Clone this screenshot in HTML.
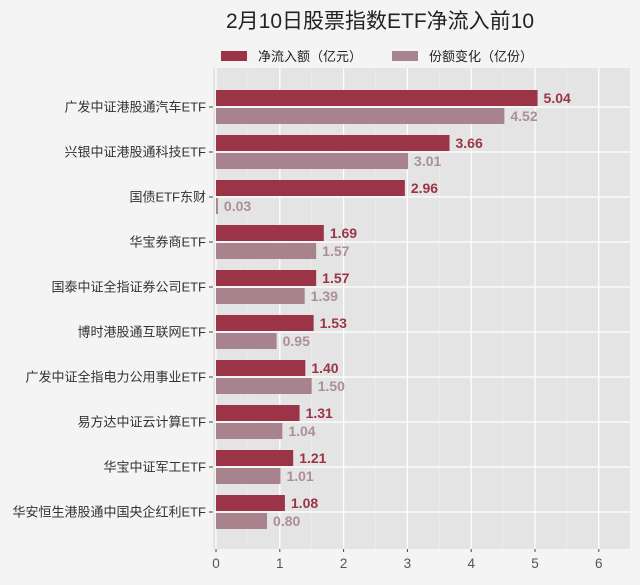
<!DOCTYPE html>
<html><head><meta charset="utf-8"><style>
body{margin:0;background:#f4f4f4;font-family:"Liberation Sans","Noto Sans CJK SC",sans-serif;overflow:hidden;}
svg{display:block;}
</style></head><body>
<svg id="c" width="640" height="585" xmlns="http://www.w3.org/2000/svg">
<rect width="640" height="585" fill="#f4f4f4"/>
<text x="380" y="28" text-anchor="middle" font-size="21" fill="#222" font-family="Liberation Sans,Noto Sans CJK SC,sans-serif">2月10日股票指数ETF净流入前10</text>
<g>
<rect x="221" y="51" width="26" height="10" fill="#9b3446"/>
<text x="258" y="61" font-size="13" fill="#222" font-family="Liberation Sans,Noto Sans CJK SC,sans-serif">净流入额（亿元）</text>
<rect x="392" y="51" width="26" height="10" fill="#a8838e"/>
<text x="429" y="61" font-size="13" fill="#222" font-family="Liberation Sans,Noto Sans CJK SC,sans-serif">份额变化（亿份）</text>
</g>
<g id="plot"></g>
</svg>
<script>
const categories=["广发中证港股通汽车ETF","兴银中证港股通科技ETF","国债ETF东财","华宝券商ETF","国泰中证全指证券公司ETF","博时港股通互联网ETF","广发中证全指电力公用事业ETF","易方达中证云计算ETF","华宝中证军工ETF","华安恒生港股通中国央企红利ETF"];
const netInflow=[5.04,3.66,2.96,1.69,1.57,1.53,1.40,1.31,1.21,1.08];
const shareChange=[4.52,3.01,0.03,1.57,1.39,0.95,1.50,1.04,1.01,0.80];
const xTicks=[0,1,2,3,4,5,6];
const NS="http://www.w3.org/2000/svg";
const g=document.getElementById('plot');
const X0=216,UNIT=63.8,TOP=68,BOTTOM=549,RIGHT=630,ROW0=107,ROWH=45;
const xs=v=>X0+v*UNIT;
const ys=i=>ROW0+i*ROWH;
function mk(t,a){const e=document.createElementNS(NS,t);for(const k in a)e.setAttribute(k,a[k]);g.appendChild(e);return e;}
let e=mk('rect',{x:X0-3,y:TOP,width:RIGHT-X0+3,height:BOTTOM-TOP,fill:'#e4e4e4'});


for(let v=0.5;v<6.5;v+=1){const l=mk('line',{x1:xs(v),x2:xs(v),y1:TOP,y2:BOTTOM,stroke:'#efefef','stroke-width':0.6});

}
xTicks.forEach(v=>{const l=mk('line',{x1:xs(v),x2:xs(v),y1:TOP,y2:BOTTOM,stroke:'#fff','stroke-width':1.2});


const tk=mk('line',{x1:xs(v),x2:xs(v),y1:BOTTOM,y2:BOTTOM+3,stroke:'#444'});


const t=mk('text',{x:xs(v),y:BOTTOM+19,'text-anchor':'middle','font-size':13.5,fill:'#555'});t.textContent=v;

});
categories.forEach((c,i)=>{const y=ys(i);
const hl=mk('line',{x1:X0-3,x2:RIGHT,y1:y,y2:y,stroke:'#fff','stroke-width':1.2});


const tk=mk('line',{x1:X0-7,x2:X0-3,y1:y,y2:y,stroke:'#444'});


const t=mk('text',{x:X0-10,y:y+4.5,'text-anchor':'end','font-size':13,fill:'#333'});t.textContent=c;


const b1=mk('rect',{x:X0,y:y-17,width:xs(netInflow[i])-X0,height:16,fill:'#9b3446'});


const t1=mk('text',{x:xs(netInflow[i])+6,y:y-4,'font-size':14,'font-weight':'bold',fill:'#9b3446'});t1.textContent=netInflow[i].toFixed(2);


const b2=mk('rect',{x:X0,y:y+1,width:Math.max(1,xs(shareChange[i])-X0),height:16,fill:'#a8838e'});


const t2=mk('text',{x:xs(shareChange[i])+6,y:y+14,'font-size':14,'font-weight':'bold',fill:'#ab8f98'});t2.textContent=shareChange[i].toFixed(2);

});
</script>
</body></html>
